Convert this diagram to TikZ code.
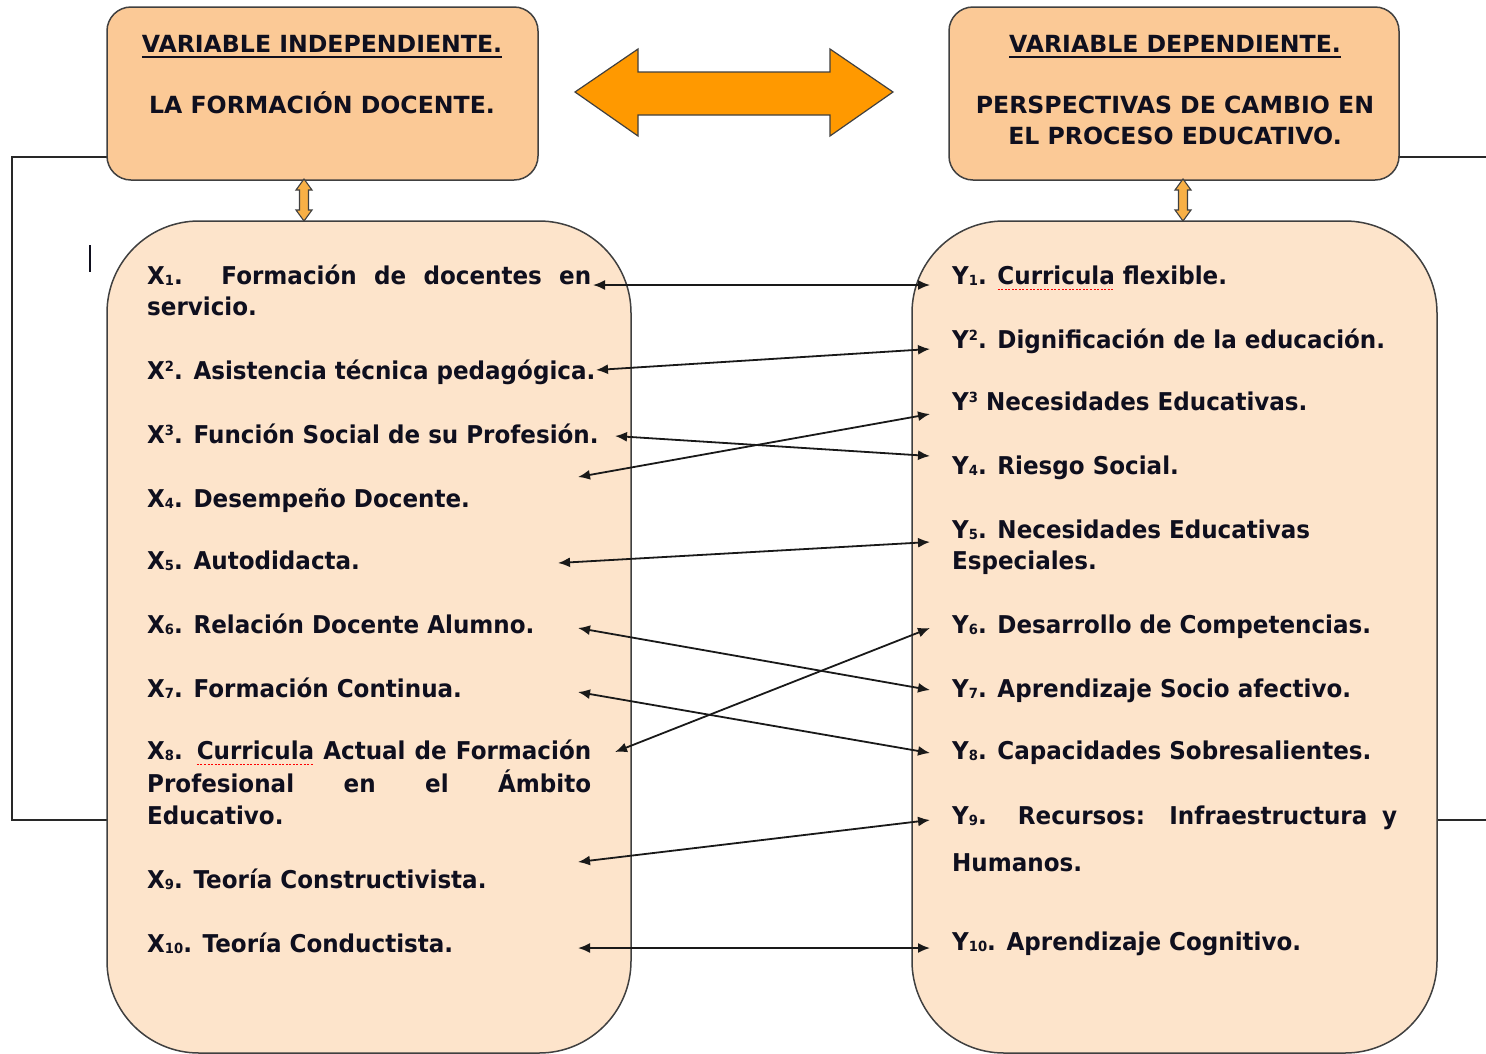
\documentclass[tikz,border=0pt]{standalone}
\usepackage{fontspec}
\usetikzlibrary{arrows.meta}
\newfontfamily\listfont{DejaVu Sans}[FakeStretch=0.94]
\newfontfamily\headfont{DejaVu Sans}
\definecolor{topfill}{RGB}{251,201,150}
\definecolor{lowfill}{RGB}{253,228,203}
\definecolor{boxline}{RGB}{64,64,64}
\definecolor{bigfill}{RGB}{255,153,0}
\definecolor{smallfill}{RGB}{248,176,70}
\definecolor{txt}{RGB}{15,15,30}
\definecolor{linkc}{RGB}{25,25,25}
\definecolor{framec}{RGB}{40,40,40}
\newcommand\headul[1]{\setbox0=\hbox{#1}\rlap{\lower5.5pt\hbox{\vrule width\wd0 height 1.8pt depth 0pt}}\box0\relax}
\newcommand\spellerr[1]{\setbox0=\hbox{#1}\rlap{\textcolor{red}{\lower6pt\hbox to \wd0{\xleaders\hbox to 3.5pt{\vrule width 2pt height 1.4pt depth 0pt\hfil}\hfil}}}\box0\relax}
\newcommand\sbs[1]{\raisebox{-1.5pt}{\fontsize{14}{14}\selectfont #1}}
\newcommand\sps[1]{\raisebox{7.5pt}{\fontsize{14}{14}\selectfont #1}}
\tikzset{
 topbox/.style={draw=boxline, line width=1.5pt, fill=topfill, rounded corners=24pt, inner sep=0pt},
 lowbox/.style={draw=boxline, line width=1.5pt, fill=lowfill, rounded corners=92pt, inner sep=0pt},
 head/.style={font=\headfont\bfseries\fontsize{23.6}{28}\selectfont, text=txt, inner sep=0pt, anchor=base},
 item/.style={font=\listfont\bfseries\fontsize{24.5}{31}\selectfont, text=txt, inner sep=0pt, anchor=base west},
 link/.style={line width=1.8pt, draw=linkc, {Latex[length=12pt,width=10pt]}-{Latex[length=12pt,width=10pt]}},
 frameline/.style={line width=2pt, draw=framec},
 bigarrow/.style={fill=bigfill, draw=boxline, line width=1.2pt, line join=miter},
 smallarrow/.style={fill=smallfill, draw=boxline, line width=1.1pt, line join=miter},
}
\begin{document}
\begin{tikzpicture}[x=1pt,y=-1pt]
\useasboundingbox (0,0) rectangle (1486,1053);
\fill[white] (0,0) rectangle (1486,1053);

% frame lines (behind boxes)
\coordinate (fl1) at (107,157);
\coordinate (fl2) at (12,157);
\coordinate (fl3) at (12,820);
\coordinate (fl4) at (107,820);
\coordinate (fr1) at (1399,157);
\coordinate (fr2) at (1486,157);
\coordinate (fr3) at (1437,820);
\coordinate (fr4) at (1486,820);
\draw[frameline] (fl1) -- (fl2) -- (fl3) -- (fl4);
\draw[frameline] (fr1) -- (fr2);
\draw[frameline] (fr3) -- (fr4);

% boxes
\node[topbox, minimum width=431pt, minimum height=173pt] (tl) at (322.5,93.5) {};
\node[topbox, minimum width=450pt, minimum height=173pt] (tr) at (1174,93.5) {};
\node[lowbox, minimum width=524pt, minimum height=832pt] (bl) at (369,637) {};
\node[lowbox, minimum width=525pt, minimum height=832pt] (br) at (1174.5,637) {};

% big double arrow
\draw[bigarrow] (575,92) -- (638,49) -- (638,72) -- (830,72) -- (830,49) -- (893,92)
  -- (830,136) -- (830,115) -- (638,115) -- (638,136) -- cycle;

% small double arrows
\foreach \cx in {304,1183}{
 \draw[smallarrow] (\cx,179) -- (\cx+8,190) -- (\cx+4.5,190) -- (\cx+4.5,210) -- (\cx+8,210)
   -- (\cx,221) -- (\cx-8,210) -- (\cx-4.5,210) -- (\cx-4.5,190) -- (\cx-8,190) -- cycle;
}

% stray mark
\draw[line width=2.5pt, txt] (90,245) -- (90,272);

% headings
\node[head] (h1) at (322,52) {\headul{VARIABLE INDEPENDIENTE.}};
\node[head] (h2) at (322,113) {LA FORMACIÓN DOCENTE.};
\node[head] (h3) at (1175,52) {\headul{VARIABLE DEPENDIENTE.}};
\node[head] (h4) at (1175,113) {PERSPECTIVAS DE CAMBIO EN};
\node[head] (h5) at (1175,144) {EL PROCESO EDUCATIVO.};

% left list
\node[item] (x1a) at (147,284) {\makebox[444pt][s]{X\sbs{1}. Formación de docentes en}};
\node[item] (x1b) at (147,315) {servicio.};
\node[item] (x2) at (147,379) {X\sps{2}. Asistencia técnica pedagógica.};
\node[item] (x3) at (147,443) {X\sps{3}. Función Social de su Profesión.};
\node[item] (x4) at (147,507) {X\sbs{4}. Desempeño Docente.};
\node[item] (x5) at (147,569) {X\sbs{5}. Autodidacta.};
\node[item] (x6) at (147,633) {X\sbs{6}. Relación Docente Alumno.};
\node[item] (x7) at (147,697) {X\sbs{7}. Formación Continua.};
\node[item] (x8a) at (147,759) {\makebox[444pt][s]{X\sbs{8}. \spellerr{Curricula} Actual de Formación}};
\node[item] (x8b) at (147,792) {\makebox[444pt][s]{Profesional en el Ámbito}};
\node[item] (x8c) at (147,824) {Educativo.};
\node[item] (x9) at (147,888) {X\sbs{9}. Teoría Constructivista.};
\node[item] (x10) at (147,952) {X\sbs{10}. Teoría Conductista.};

% right list
\node[item] (y1) at (952,284) {Y\sbs{1}. \spellerr{Curricula} flexible.};
\node[item] (y2) at (952,348) {Y\sps{2}. Dignificación de la educación.};
\node[item] (y3) at (952,410) {Y\sps{3} Necesidades Educativas.};
\node[item] (y4) at (952,474) {Y\sbs{4}. Riesgo Social.};
\node[item] (y5a) at (952,538) {Y\sbs{5}. Necesidades Educativas};
\node[item] (y5b) at (952,569) {Especiales.};
\node[item] (y6) at (952,633) {Y\sbs{6}. Desarrollo de Competencias.};
\node[item] (y7) at (952,697) {Y\sbs{7}. Aprendizaje Socio afectivo.};
\node[item] (y8) at (952,759) {Y\sbs{8}. Capacidades Sobresalientes.};
\node[item] (y9a) at (952,824) {\makebox[445pt][s]{Y\sbs{9}. Recursos: Infraestructura y}};
\node[item] (y9b) at (952,871) {Humanos.};
\node[item] (y10) at (952,950) {Y\sbs{10}. Aprendizaje Cognitivo.};

% connector end points
\coordinate (la1) at (593,285);  \coordinate (ra1) at (930,285);
\coordinate (la2) at (596,370);  \coordinate (ra2) at (930,349);
\coordinate (la3) at (615,436);  \coordinate (ra3) at (930,456);
\coordinate (la4) at (578,477);  \coordinate (ra4) at (930,414);
\coordinate (la5) at (558,563);  \coordinate (ra5) at (930,542);
\coordinate (la6) at (578,628);  \coordinate (ra6) at (930,690);
\coordinate (la7) at (578,692);  \coordinate (ra7) at (930,753);
\coordinate (la8) at (615,752);  \coordinate (ra8) at (930,628);
\coordinate (la9) at (578,862);  \coordinate (ra9) at (930,820);
\coordinate (la10) at (578,948); \coordinate (ra10) at (930,948);
\foreach \i in {1,...,10}{ \draw[link] (la\i) -- (ra\i); }
\end{tikzpicture}
\end{document}
